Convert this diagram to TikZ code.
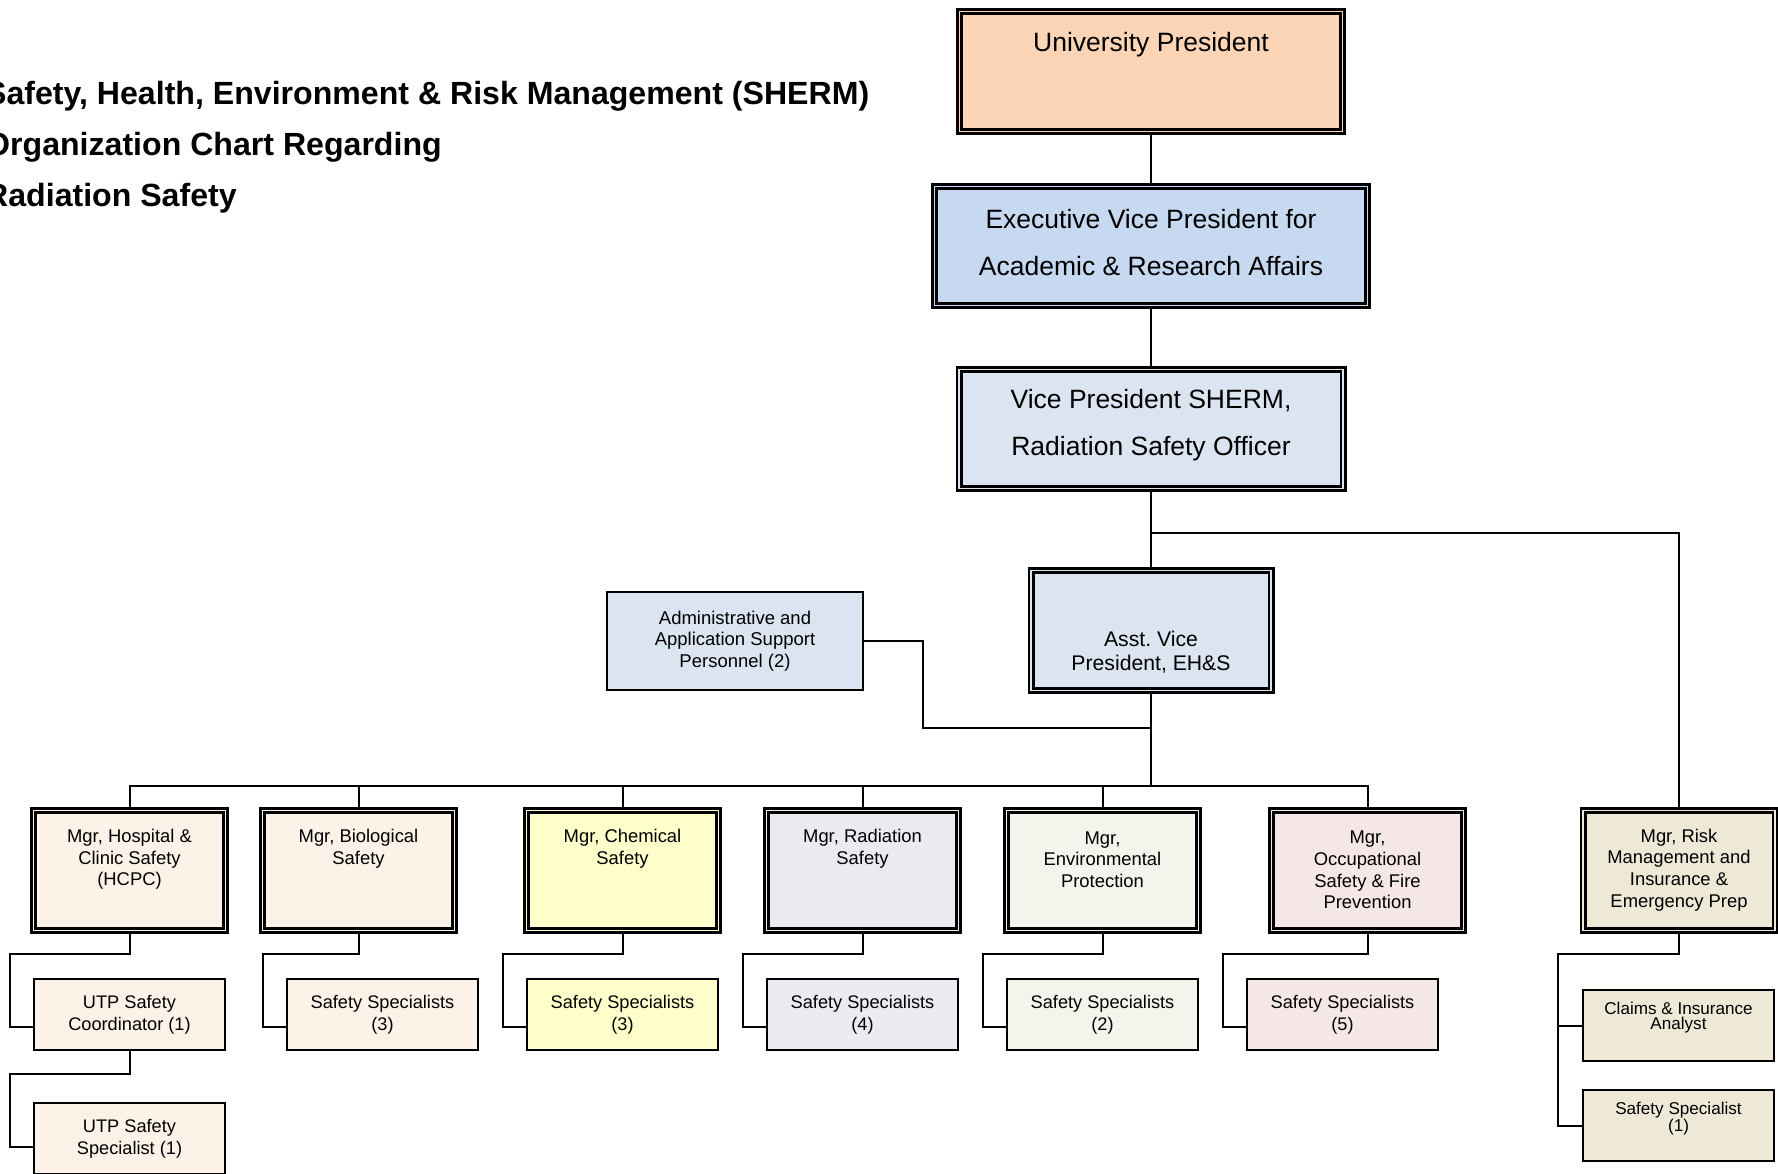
\documentclass[tikz,border=0pt]{standalone}
\usepackage{fontspec}
\setmainfont{Liberation Sans}
\usetikzlibrary{positioning}

\definecolor{peach}{HTML}{FBD5B5}
\definecolor{evpblue}{HTML}{C6D9F1}
\definecolor{paleblue}{HTML}{DBE5F1}
\definecolor{hcpc}{HTML}{FDF2E8}
\definecolor{chem}{HTML}{FFFFCC}
\definecolor{rad}{HTML}{ECEAF1}
\definecolor{env}{HTML}{F2F5EC}
\definecolor{occ}{HTML}{F6E7E7}
\definecolor{risk}{HTML}{EEE8D6}

\begin{document}
\begin{tikzpicture}[x=1pt, y=-1pt]

	\tikzstyle{chief}=[rectangle, draw, line width=2.6pt, double distance=1.8pt, outer sep=3.5pt, inner sep=0pt]
	\tikzstyle{mgr}=[chief, minimum width=192pt, minimum height=120pt]
	\tikzstyle{staff}=[rectangle, draw, line width=2pt, minimum width=191pt, minimum height=71pt, inner sep=0pt, align=center, font=\fontsize{18.2}{21.6}\selectfont]
	\tikzstyle{bigtxt}=[font=\fontsize{26.5}{47}\selectfont, align=center, inner sep=0pt]
	\tikzstyle{midtxt}=[font=\fontsize{21.2}{24}\selectfont, align=center, inner sep=0pt]
	\tikzstyle{smalltxt}=[font=\fontsize{18.4}{21.6}\selectfont, align=center, inner sep=0pt]
	\tikzstyle{tinytxt}=[font=\fontsize{17.1}{15.5}\selectfont, align=center, inner sep=0pt]
	\tikzstyle{link}=[line width=2pt]

	\path[use as bounding box, fill=white] (0,0) rectangle (1778,1173);

	\node[anchor=west, inner sep=0pt, align=left, font=\bfseries\fontsize{32.1}{51}\selectfont] (title) at (-15,147) {Safety, Health, Environment \& Risk Management (SHERM)\\Organization Chart Regarding\\Radiation Safety};

	% upper management
	\node[chief, fill=peach, double=peach, minimum width=383pt, minimum height=120pt] (pres) at (1151,71.5) {};
	\node[chief, fill=evpblue, double=evpblue, minimum width=433pt, minimum height=119pt] (evp) at (1151,246) {};
	\node[chief, fill=paleblue, double=paleblue, minimum width=384pt, minimum height=119pt] (vp) at (1151,429) {};
	\node[chief, fill=paleblue, double=paleblue, minimum width=240pt, minimum height=120pt] (avp) at (1151,630.5) {};
	\node[staff, fill=paleblue, minimum width=256pt, minimum height=98pt, font=\fontsize{18.5}{21.6}\selectfont] (admin) at (735,641) {Administrative and\\Application Support\\Personnel (2)};

	\node[bigtxt] (pres-t) at (1151,44.5) {University President};
	\node[bigtxt] (evp-t) at (1151,242.5) {Executive Vice President for\\Academic \& Research Affairs};
	\node[bigtxt] (vp-t) at (1151,425) {Vice President SHERM,\\Radiation Safety Officer};
	\node[midtxt] (avp-t) at (1151,652) {Asst.\ Vice\\President, EH\&S};

	% managers
	\node[mgr, fill=hcpc, double=hcpc] (hosp) at (129.5,870.5) {};
	\node[mgr, fill=hcpc, double=hcpc] (bio) at (358.5,870.5) {};
	\node[mgr, fill=chem, double=chem] (chem) at (622.5,870.5) {};
	\node[mgr, fill=rad, double=rad] (rad) at (862.5,870.5) {};
	\node[mgr, fill=env, double=env] (env) at (1102.5,870.5) {};
	\node[mgr, fill=occ, double=occ] (occ) at (1367.5,870.5) {};
	\node[mgr, fill=risk, double=risk] (risk) at (1679,870.5) {};

	\node[smalltxt] (hosp-t) at (129.5,859.5) {Mgr, Hospital \&\\Clinic Safety\\(HCPC)};
	\node[smalltxt] (bio-t) at (358.5,848.5) {Mgr, Biological\\Safety};
	\node[smalltxt] (chem-t) at (622.5,848.5) {Mgr, Chemical\\Safety};
	\node[smalltxt] (rad-t) at (862.5,848.5) {Mgr, Radiation\\Safety};
	\node[smalltxt] (env-t) at (1102.5,859.5) {Mgr,\\Environmental\\Protection};
	\node[smalltxt] (occ-t) at (1367.5,870) {Mgr,\\Occupational\\Safety \& Fire\\Prevention};
	\node[smalltxt] (risk-t) at (1679,870) {Mgr, Risk\\Management and\\Insurance \&\\Emergency Prep};

	% specialists
	\node[staff, fill=hcpc] (hosp-s1) at (129.5,1014.5) {UTP Safety\\Coordinator (1)};
	\node[staff, fill=hcpc] (hosp-s2) at (129.5,1138.5) {UTP Safety\\Specialist (1)};
	\node[staff, fill=hcpc] (bio-s) at (382.5,1014.5) {Safety Specialists\\(3)};
	\node[staff, fill=chem] (chem-s) at (622.5,1014.5) {Safety Specialists\\(3)};
	\node[staff, fill=rad] (rad-s) at (862.5,1014.5) {Safety Specialists\\(4)};
	\node[staff, fill=env] (env-s) at (1102.5,1014.5) {Safety Specialists\\(2)};
	\node[staff, fill=occ] (occ-s) at (1342.5,1014.5) {Safety Specialists\\(5)};
	\node[staff, fill=risk] (claims) at (1678.5,1025.5) {};
	\node[staff, fill=risk] (rsafe) at (1678.5,1125.5) {};

	\node[tinytxt] (claims-t) at (1678.5,1017.5) {Claims \& Insurance\\Analyst};
	\node[tinytxt] (rsafe-t) at (1678.5,1118.5) {Safety Specialist\\(1)};

	% reporting lines
	\draw[link] (pres) -- (evp);
	\draw[link] (evp) -- (vp);
	\draw[link] (vp) -- (avp);
	\draw[link] (vp.south) -- ++(0,41) -| (risk.north);
	\draw[link] (avp.south) -- ++(0,92) coordinate (bus);
	\draw[link] (admin.east) -- ++(59,0) |- ([yshift=-34pt]avp.south);

	\draw[link] (bus) -| (hosp.north);
	\draw[link] (bus) -| (bio.north);
	\draw[link] (bus) -| (chem.north);
	\draw[link] (bus) -| (rad.north);
	\draw[link] (bus) -| (env.north);
	\draw[link] (bus) -| (occ.north);

	\draw[link] (hosp.south) -- ++(0,20) -| ([xshift=-23pt, yshift=-12pt]hosp-s1.west) -- ([yshift=-12pt]hosp-s1.west);
	\draw[link] (hosp-s1.south) -- ++(0,23) -| ([xshift=-23pt, yshift=-8pt]hosp-s2.west) -- ([yshift=-8pt]hosp-s2.west);
	\draw[link] (bio.south) -- ++(0,20) -| ([xshift=-23pt, yshift=-12pt]bio-s.west) -- ([yshift=-12pt]bio-s.west);
	\draw[link] (chem.south) -- ++(0,20) -| ([xshift=-23pt, yshift=-12pt]chem-s.west) -- ([yshift=-12pt]chem-s.west);
	\draw[link] (rad.south) -- ++(0,20) -| ([xshift=-23pt, yshift=-12pt]rad-s.west) -- ([yshift=-12pt]rad-s.west);
	\draw[link] (env.south) -- ++(0,20) -| ([xshift=-23pt, yshift=-12pt]env-s.west) -- ([yshift=-12pt]env-s.west);
	\draw[link] (occ.south) -- ++(0,20) -| ([xshift=-23pt, yshift=-12pt]occ-s.west) -- ([yshift=-12pt]occ-s.west);

	\draw[link] (risk.south) -- ++(0,20) -| ([xshift=-24pt]rsafe.west) -- (rsafe.west);
	\draw[link] ([xshift=-24pt]claims.west) -- (claims.west);

\end{tikzpicture}
\end{document}
